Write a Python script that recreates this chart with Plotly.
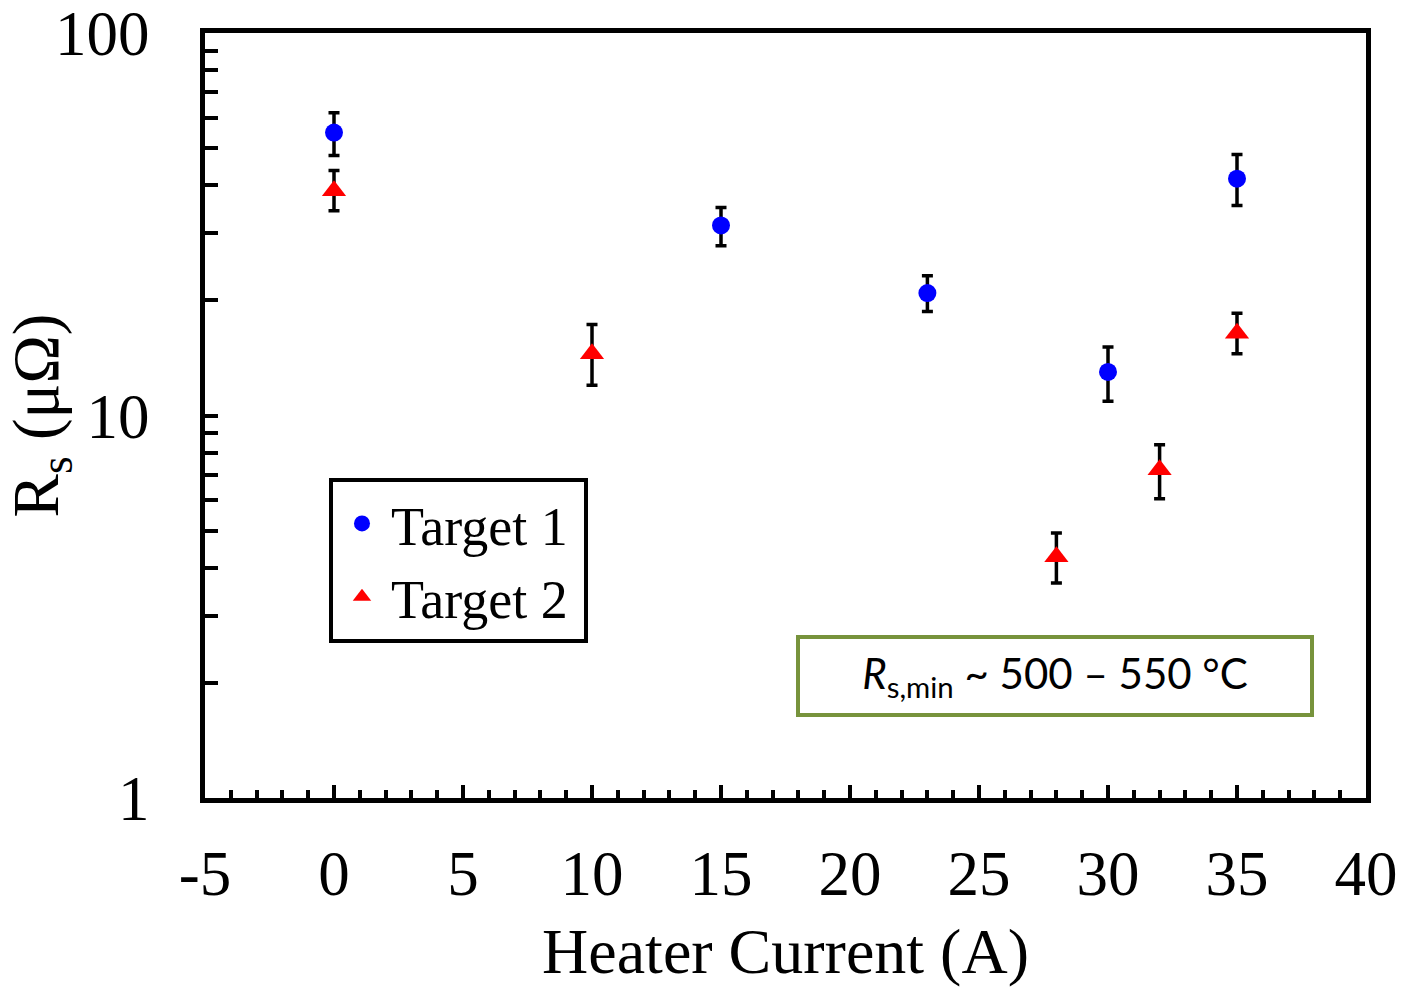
import plotly.graph_objects as go

# ---- data ----
t1_x = [0, 15, 23, 30, 35]
t1_y = [54.9, 31.4, 20.9, 13.0, 41.6]
t1_up = [61.9, 35.0, 23.2, 15.1, 48.1]
t1_lo = [47.8, 27.8, 18.7, 10.9, 35.4]

t2_x = [0, 10, 28, 32, 35]
t2_y = [38.7, 14.5, 4.27, 7.21, 16.4]
t2_up = [43.7, 17.3, 4.93, 8.38, 18.5]
t2_lo = [34.3, 12.0, 3.65, 6.06, 14.5]

x_ticks = [-5, 0, 5, 10, 15, 20, 25, 30, 35, 40]
x_labels = ["-5", "0", "5", "10", "15", "20", "25", "30", "35", "40"]
y_ticks = [1, 10, 100]
y_labels = ["1", "10", "100"]

SERIF = "Liberation Serif"

def errs(y, up, lo):
    return [u - v for u, v in zip(up, y)], [v - l for v, l in zip(y, lo)]

e1p, e1m = errs(t1_y, t1_up, t1_lo)
e2p, e2m = errs(t2_y, t2_up, t2_lo)

fig = go.Figure()
fig.add_trace(go.Scatter(
    x=t1_x, y=t1_y, mode="markers", name="Target 1\u2009",
    marker=dict(symbol="circle", size=18, color="#0000FF"),
    error_y=dict(type="data", symmetric=False, array=e1p, arrayminus=e1m,
                 color="black", thickness=3.5, width=5.5),
))
fig.add_trace(go.Scatter(
    x=t2_x, y=t2_y, mode="markers", name="Target 2\u2009",
    marker=dict(symbol="triangle-up", size=21, color="#FF0000"),
    error_y=dict(type="data", symmetric=False, array=e2p, arrayminus=e2m,
                 color="black", thickness=3.5, width=5.5),
))

fig.update_layout(
    width=1402, height=987,
    margin=dict(l=205, r=36, t=33, b=189),
    paper_bgcolor="white", plot_bgcolor="white",
    font=dict(family=SERIF, size=58, color="black"),
    showlegend=True,
    legend=dict(
        x=0.1068, y=0.4185, xanchor="left", yanchor="top",
        bgcolor="white", bordercolor="black", borderwidth=4,
        font=dict(family=SERIF, size=54, color="black"),
        itemwidth=48, tracegroupgap=0,
    ),
    xaxis=dict(
        range=[-5, 40], tickmode="array", tickvals=x_ticks, ticktext=x_labels,
        ticks="inside", ticklen=13, tickwidth=4, tickcolor="black",
        showline=True, linewidth=5, linecolor="black", mirror=True,
        showgrid=False, zeroline=False, automargin=False,
        tickfont=dict(family=SERIF, size=63),
        ticklabelstandoff=16, ticklabeloverflow="allow",
        minor=dict(tickmode="linear", tick0=0, dtick=1, ticks="inside",
                   ticklen=8, tickwidth=4, tickcolor="black", showgrid=False),
        title=dict(text="Heater Current (A)", font=dict(family=SERIF, size=64),
                   standoff=36),
    ),
    yaxis=dict(
        type="log", range=[0, 2], tickmode="array", tickvals=y_ticks, ticktext=y_labels,
        ticks="inside", ticklen=13, tickwidth=4, tickcolor="black",
        showline=True, linewidth=5, linecolor="black", mirror=True,
        showgrid=False, zeroline=False, automargin=False,
        tickfont=dict(family=SERIF, size=63),
        ticklabelstandoff=38, ticklabeloverflow="allow",
        minor=dict(ticks="inside", ticklen=13, tickwidth=4, tickcolor="black",
                   dtick="D1", showgrid=False),
        title=dict(text="R<sub>s</sub> (μΩ)", font=dict(family=SERIF, size=65),
                   standoff=0),
    ),
    annotations=[dict(
        xref="paper", yref="paper", x=0.732, y=0.1596,
        xanchor="center", yanchor="middle",
        text="<i>R</i><sub>s,min</sub> ~ 500 – 550 °C",
        font=dict(family="Lato", size=42, color="black"),
        showarrow=False, bgcolor="white",
        bordercolor="#77933C", borderwidth=4, borderpad=0,
        width=510, height=74,
    )],
)

fig.write_html("out.html")
